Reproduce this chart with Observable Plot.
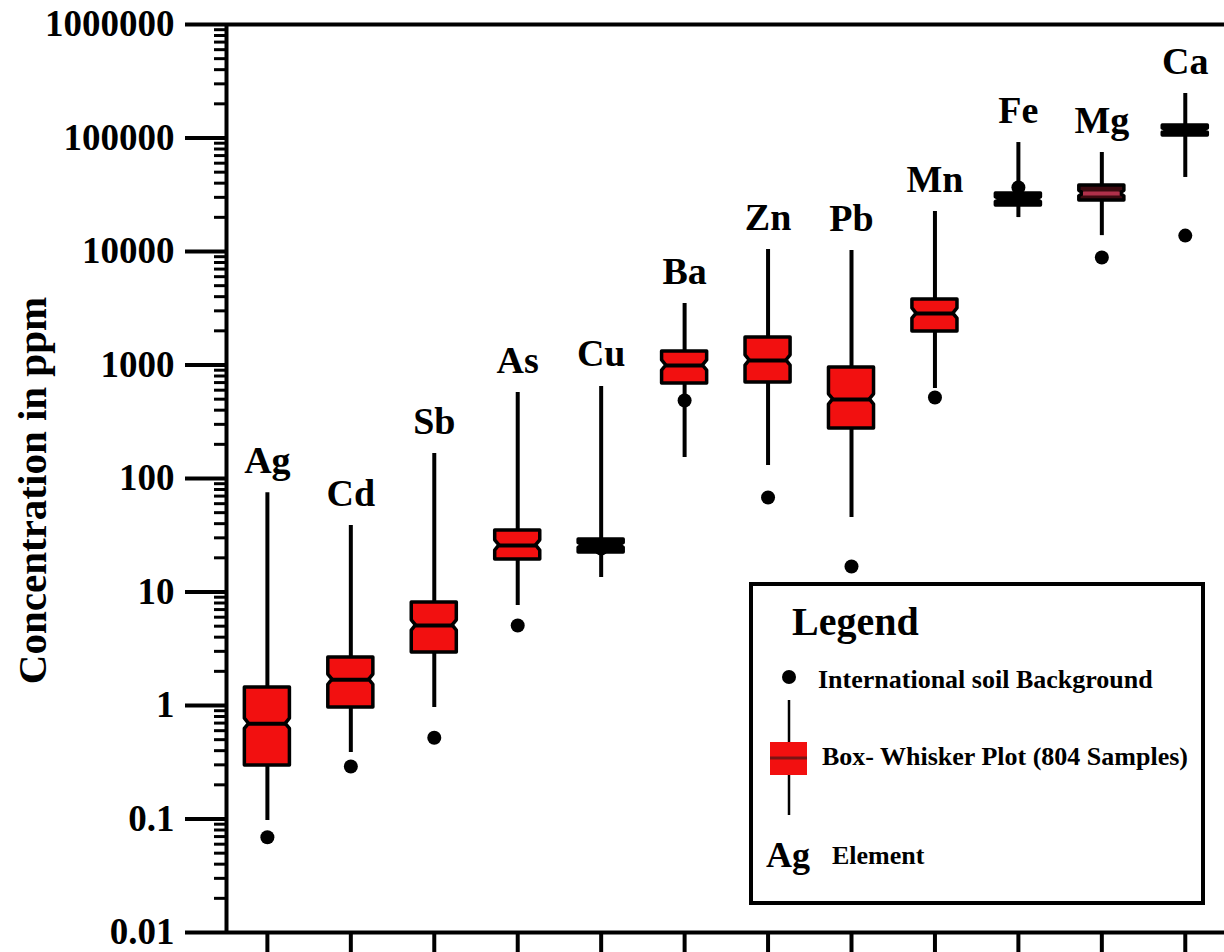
<!DOCTYPE html>
<html>
<head>
<meta charset="utf-8">
<script src="https://cdn.jsdelivr.net/npm/d3@7"></script>
<script src="https://cdn.jsdelivr.net/npm/@observablehq/plot@0.6"></script>
<style>
  body { margin: 0; background: #fff; }
  svg { display: block; }
</style>
</head>
<body>
<div id="chart"></div>
<script>
// ---- Data (concentrations in ppm) ----
const elements      = ["Ag", "Cd", "Sb", "As", "Cu", "Ba", "Zn", "Pb", "Mn", "Fe", "Mg", "Ca"];
const whiskerHigh   = [75, 38.5, 166, 572, 647, 3480, 10400, 10200, 22500, 91200, 74500, 246600];
const q3            = [1.44, 2.65, 8.1, 34.8, 29, 1315, 1750, 950, 3780, 32400, 38100, 128900];
const median        = [0.69, 1.69, 5.07, 25.7, 25.7, 990, 1096, 497, 2840, 28700, 32400, 116400];
const q1            = [0.296, 0.96, 2.93, 19.3, 22.3, 687, 701, 276, 1973, 25400, 28100, 105100];
const whiskerLow    = [0.097, 0.386, 0.96, 7.6, 13.4, 153, 130, 45.3, 621, 19900, 13800, 44900];
const soilBackground= [0.069, 0.29, 0.52, 5.07, 24.2, 487, 68, 16.8, 517, 36600, 8850, 13800];

const yTickValues = [0.01, 0.1, 1, 10, 100, 1000, 10000, 100000, 1000000];
const yTickLabels = ["0.01", "0.1", "1", "10", "100", "1000", "10000", "100000", "1000000"];
const yTitle = "Concentration in ppm";
const legendTitle = "Legend";
const legendDot = "International soil Background";
const legendBox = "Box- Whisker Plot (804 Samples)";
const legendElemSymbol = "Ag";
const legendElem = "Element";

// ---- Derived tables ----
const minorTicks = [];
for (let k = -2; k < 6; k++) for (let m = 2; m <= 9; m++) minorTicks.push(m * Math.pow(10, k));

const rows = elements.map((name, i) => ({
  name, i,
  lo: whiskerLow[i], q1: q1[i], med: median[i], q3: q3[i], hi: whiskerHigh[i], bg: soilBackground[i]
}));

const RED = "#f21010";
const hw = 0.27;     // box half width in x units
const nd = 0.05;     // notch depth in x units
function boxFill(r) {
  const t = Math.log10(r.q3 / r.q1);
  return t < 0.12 ? "#000" : t < 0.15 ? "#3c0a10" : RED;
}
function medColor(r) {
  const t = Math.log10(r.q3 / r.q1);
  return t < 0.12 ? "#000" : t < 0.15 ? "#b0304a" : "#000";
}
const boxPts = [];
for (const r of rows) {
  const n = Math.min(0.045, 0.4 * Math.log10(r.q3 / r.med), 0.4 * Math.log10(r.med / r.q1));
  const f = Math.pow(10, n);
  const fill = boxFill(r);
  const full = {x1: r.i - hw, x2: r.i + hw};
  const narrow = {x1: r.i - hw + nd, x2: r.i + hw - nd};
  boxPts.push({name: r.name, fill, y: r.q1, ...full});
  boxPts.push({name: r.name, fill, y: r.med / f, ...full});
  boxPts.push({name: r.name, fill, y: r.med, ...narrow});
  boxPts.push({name: r.name, fill, y: r.med * f, ...full});
  boxPts.push({name: r.name, fill, y: r.q3, ...full});
}

const xDomain = [-0.49, 11.47];
const FONT = "'Liberation Serif', 'Times New Roman', serif";

// ---- Legend (decoration drawn inside the plot area) ----
function legendMark() {
  const g = d3.create("svg:g").attr("font-family", FONT).attr("font-weight", "bold")
    .attr("fill", "black").attr("text-anchor", "start");
  g.append("rect").attr("x", 751).attr("y", 584).attr("width", 452).attr("height", 319)
    .attr("fill", "white").attr("stroke", "black").attr("stroke-width", 4);
  g.append("text").attr("x", 792).attr("y", 635).attr("font-size", 40).text(legendTitle);
  g.append("circle").attr("cx", 789).attr("cy", 677).attr("r", 7).attr("fill", "black");
  g.append("text").attr("x", 818).attr("y", 688).attr("font-size", 26).text(legendDot);
  g.append("line").attr("x1", 789).attr("x2", 789).attr("y1", 700).attr("y2", 815)
    .attr("stroke", "black").attr("stroke-width", 2.5);
  g.append("rect").attr("x", 770).attr("y", 742).attr("width", 37).attr("height", 33).attr("fill", RED);
  g.append("line").attr("x1", 770).attr("x2", 807).attr("y1", 758).attr("y2", 758)
    .attr("stroke", "#7a1414").attr("stroke-width", 3);
  g.append("text").attr("x", 822).attr("y", 765).attr("font-size", 26).text(legendBox);
  g.append("text").attr("x", 766).attr("y", 867).attr("font-size", 36).text(legendElemSymbol);
  g.append("text").attr("x", 832).attr("y", 864).attr("font-size", 26).text(legendElem);
  return g.node();
}

const chart = Plot.plot({
  width: 1224,
  height: 952,
  marginLeft: 226,
  marginRight: 0,
  marginTop: 24,
  marginBottom: 20,
  style: {fontFamily: FONT, fontWeight: "bold", color: "black", background: "white", overflow: "visible"},
  x: {type: "linear", domain: xDomain, axis: null},
  y: {type: "log", domain: [0.01, 1000000], axis: null},
  color: {type: "identity"},
  marks: [
    // minor ticks on the y axis
    Plot.axisY({ticks: minorTicks, tickSize: 12, tickFormat: () => "", strokeWidth: 3, stroke: "black"}),
    // major ticks + labels
    Plot.axisY({
      ticks: yTickValues, tickSize: 41, tickPadding: 11, strokeWidth: 4, stroke: "black",
      tickFormat: (d) => yTickLabels[yTickValues.indexOf(d)],
      fontSize: 37, fontWeight: "bold", fontFamily: FONT, fill: "black", label: null
    }),
    // bottom ticks at each element
    Plot.axisX({ticks: d3.range(elements.length), tickSize: 22, tickFormat: () => "", strokeWidth: 4, stroke: "black", label: null}),
    // frame lines
    Plot.ruleX([xDomain[0]], {stroke: "black", strokeWidth: 4}),
    Plot.ruleY([0.01, 1000000], {stroke: "black", strokeWidth: 4}),
    // y-axis title
    Plot.text([yTitle], {frameAnchor: "left", dx: -194, dy: 12, rotate: -90, fontSize: 41,
      fontWeight: "bold", fontFamily: FONT, fill: "black", textAnchor: "middle", lineAnchor: "middle"}),
    // whiskers
    Plot.ruleX(rows, {x: "i", y1: "lo", y2: "hi", stroke: "black", strokeWidth: 4}),
    // notched boxes
    Plot.areaX(boxPts, {y: "y", x1: "x1", x2: "x2", z: "name", fill: "fill", stroke: "black",
      strokeWidth: 3.5, strokeLinejoin: "round", curve: "linear"}),
    // medians
    Plot.ruleY(rows, {y: "med", x1: (d) => d.i - hw + nd, x2: (d) => d.i + hw - nd,
      stroke: (d) => medColor(d), strokeWidth: 4}),
    // international soil background
    Plot.dot(rows, {x: "i", y: "bg", r: 7, fill: "black"}),
    // element labels
    Plot.text(rows, {x: "i", y: "hi", text: "name", dy: -20, lineAnchor: "bottom",
      fontSize: 38, fontWeight: "bold", fontFamily: FONT, fill: "black"}),
    // legend
    legendMark
  ]
});

document.getElementById("chart").appendChild(chart);
</script>
</body>
</html>
